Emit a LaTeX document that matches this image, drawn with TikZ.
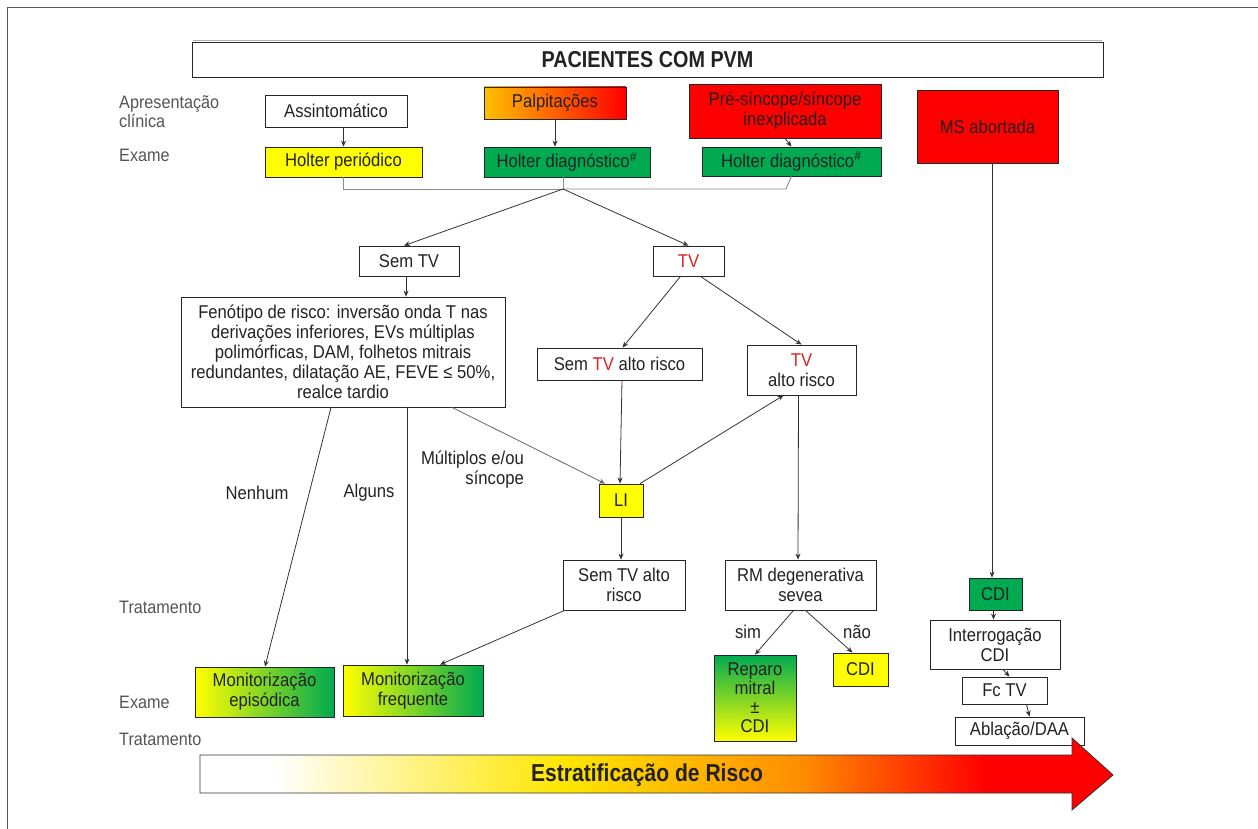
\documentclass[tikz,border=0pt]{standalone}
\usepackage{fontspec}
\setmainfont[FakeStretch=0.9]{Liberation Sans}
\newfontfamily\condb[FakeStretch=0.86]{Liberation Sans}
\usetikzlibrary{arrows.meta}
\definecolor{txt}{HTML}{222222}
\definecolor{lbl}{HTML}{555555}
\definecolor{gr}{HTML}{00AA50}
\definecolor{ye}{HTML}{FFFF00}
\definecolor{ryellow}{HTML}{FFE600}
\definecolor{rorange}{HTML}{FF8C00}
\definecolor{rd}{HTML}{FF0000}
\definecolor{tvred}{HTML}{E02020}
\definecolor{orY}{HTML}{FFC000}
\definecolor{orM}{HTML}{FF6A00}
\definecolor{ygr}{HTML}{B0E030}
\pgfdeclarehorizontalshading{risk}{100bp}{color(0bp)=(white); color(29bp)=(white); color(45bp)=(ryellow); color(58bp)=(rorange); color(68bp)=(rd); color(100bp)=(rd)}
\tikzset{
  bx/.style={draw=black!85, line width=0.8pt, inner sep=1pt, align=center, text=txt, font=\fontsize{18.5}{20}\selectfont},
  arr/.style={draw=black!80, line width=0.8pt, -{Stealth[length=6pt,width=5pt]}},
  ln/.style={draw=black!45, line width=0.9pt},
  lab/.style={text=txt, font=\fontsize{18.5}{20}\selectfont, inner sep=0pt},
  side/.style={text=lbl, font=\fontsize{18}{19}\selectfont, inner sep=0pt, anchor=west, align=left}
}
\begin{document}
\begin{tikzpicture}[x=1pt,y=-1pt]
\useasboundingbox (0,0) rectangle (1258,829);
\draw[black!65, line width=0.8pt] (7,829) -- (7,7) -- (1258,7);
% title
\draw[black!30, line width=1pt] (193,41) -- (1102,41);
\node[bx, minimum width=911pt, minimum height=35pt, font=\condb\bfseries\fontsize{23}{25}\selectfont] (title) at (647.5,59.5) {PACIENTES COM PVM};
% side labels
\node[side] (sl1) at (119,112) {Apresentação\\clínica};
\node[side] (sl2) at (119,155) {Exame};
\node[side] (sl3) at (119,607) {Tratamento};
\node[side] (sl4) at (119,702) {Exame};
\node[side] (sl5) at (119,739) {Tratamento};
% row 1
\node[bx, minimum width=142pt, minimum height=32pt] (assint) at (336,111) {Assintomático};
\node[bx, minimum width=157pt, minimum height=30pt, fill=ye] (holterp) at (343.5,162) {Holter periódico};
\node[bx, minimum width=142pt, minimum height=32pt, left color=orY, middle color=orM, right color=rd] (palp) at (555,103) {Palpitações};
\node[bx, minimum width=166pt, minimum height=30pt, fill=gr] (holter1) at (567,162) {Holter diagnóstico$^{\#}$};
\node[bx, minimum width=192pt, minimum height=54pt, fill=rd] (presinc) at (785,111) {Pré-síncope/síncope\\inexplicada};
\node[bx, minimum width=179pt, minimum height=29pt, fill=gr] (holter2) at (791.5,161.5) {Holter diagnóstico$^{\#}$};
\node[bx, minimum width=141pt, minimum height=73pt, fill=rd] (ms) at (987.5,126.5) {MS abortada};
\draw[arr] (assint.south -| holterp.south) -- (holterp.north);
\draw[arr] (palp.south) -- (palp.south |- holter1.north);
\draw[arr] (presinc.south) -- (holter2.north);
% merge
\coordinate (m) at (563,189);
\coordinate (mr) at (786,189);
\draw[ln] (holterp.south) |- (m);
\draw[ln] (holter1.south -| m) -- (m);
\draw[ln] (holter2.south) -- (mr) -- (m);
% row 2
\node[bx, minimum width=100pt, minimum height=30pt] (semtv) at (409,261) {Sem TV};
\node[bx, minimum width=71pt, minimum height=30pt, text=tvred] (tv) at (688.5,261) {TV};
\draw[arr] (m) -- ([xshift=-5pt]semtv.north);
\draw[arr] (m) -- (tv.north);
\node[bx, minimum width=324pt, minimum height=110pt] (fen) at (343,352) {Fenótipo de risco: inversão onda T nas\\derivações inferiores, EVs múltiplas\\polimórficas, DAM, folhetos mitrais\\redundantes, dilatação AE, FEVE ≤ 50\%,\\realce tardio};
\draw[arr] ([xshift=-3pt]semtv.south) -- ([xshift=-3pt]semtv.south |- fen.north);
\node[bx, minimum width=165pt, minimum height=32pt] (semtvar) at (619.5,364) {Sem \textcolor{tvred}{TV} alto risco};
\node[bx, minimum width=109pt, minimum height=50pt] (tvar) at (801.5,370) {\textcolor{tvred}{TV}\\alto risco};
\draw[arr] ([xshift=-8pt]tv.south) -- ([xshift=3pt]semtvar.north);
\draw[arr] ([xshift=12pt]tv.south) -- (tvar.north);
\node[bx, minimum width=44pt, minimum height=33pt, fill=ye] (li) at (621,500.5) {LI};
\draw[arr, draw=black!60] ([xshift=109pt]fen.south) -- ([xshift=-16pt]li.north);
\draw[arr] ([xshift=2.5pt]semtvar.south) -- ([xshift=-1pt]li.north);
\draw[arr] ([xshift=19pt]li.north) -- ([xshift=-18pt]tvar.south);
\node[bx, minimum width=122pt, minimum height=50pt] (semtvar2) at (624,585) {Sem TV alto\\risco};
\draw[arr] (li.south) -- (li.south |- semtvar2.north);
\node[bx, minimum width=151pt, minimum height=50pt] (rm) at (800.5,585) {RM degenerativa\\sevea};
\draw[arr] ([xshift=-3pt]tvar.south) -- ([xshift=-2.5pt]rm.north);
\node[bx, minimum width=82pt, minimum height=86pt, top color=gr, bottom color=ye, font=\fontsize{18.5}{19}\selectfont] (reparo) at (755,698) {Reparo\\mitral\\±\\CDI};
\node[bx, minimum width=55pt, minimum height=33pt, fill=ye] (cdiy) at (860.5,669.5) {CDI};
\draw[arr] ([xshift=-7pt]rm.south) -- (reparo.north);
\draw[arr] ([xshift=5pt]rm.south) -- ([xshift=-8pt]cdiy.north);
\node[lab] (sim) at (748,632) {sim};
\node[lab] (nao) at (857,632) {não};
% right column
\node[bx, minimum width=53pt, minimum height=32pt, fill=gr] (cdig) at (995.5,594) {CDI};
\draw[arr] ([xshift=4.5pt]ms.south) -- ([xshift=-3.5pt]cdig.north);
\node[bx, minimum width=130pt, minimum height=49pt] (interr) at (995,644.5) {Interrogação\\CDI};
\draw[arr] ([xshift=-2pt]cdig.south) -- ([xshift=-1.5pt]interr.north);
\node[bx, minimum width=85pt, minimum height=27pt] (fctv) at (1004.5,690.5) {Fc TV};
\draw[arr] ([xshift=8pt]interr.south) -- ([xshift=5pt]fctv.north);
\node[bx, minimum width=129pt, minimum height=28pt] (abl) at (1019.5,731) {Ablação/DAA};
\draw[arr] ([xshift=22pt]fctv.south) -- ([xshift=10pt]abl.north);
% monitorization
\node[bx, minimum width=139pt, minimum height=50pt, left color=ye, middle color=ygr, right color=gr] (monep) at (264.5,692) {Monitorização\\episódica};
\node[bx, minimum width=140pt, minimum height=51pt, left color=ye, middle color=ygr, right color=gr] (monfr) at (413,690.5) {Monitorização\\frequente};
\draw[arr] ([xshift=-12pt]fen.south) -- ([xshift=0.5pt]monep.north);
\draw[arr] ([xshift=64pt]fen.south) -- ([xshift=-6pt]monfr.north);
\draw[arr] ([xshift=2pt]semtvar2.south west) -- ([xshift=27pt]monfr.north);
\node[lab] (nenhum) at (257,493) {Nenhum};
\node[lab] (alguns) at (369,493) {Alguns};
\node[lab, anchor=east, align=right] (mult) at (524,470) {Múltiplos e/ou\\síncope};
% risk arrow
\path[shading=risk, draw=black!80, line width=0.8pt] (200,755) -- (1072,755) -- (1072,738) -- (1113,775) -- (1072,810) -- (1072,793) -- (200,793) -- cycle;
\node[text=txt, font=\condb\bfseries\fontsize{24.5}{26}\selectfont] (risk) at (647,775) {Estratificação de Risco};
\end{tikzpicture}
\end{document}
